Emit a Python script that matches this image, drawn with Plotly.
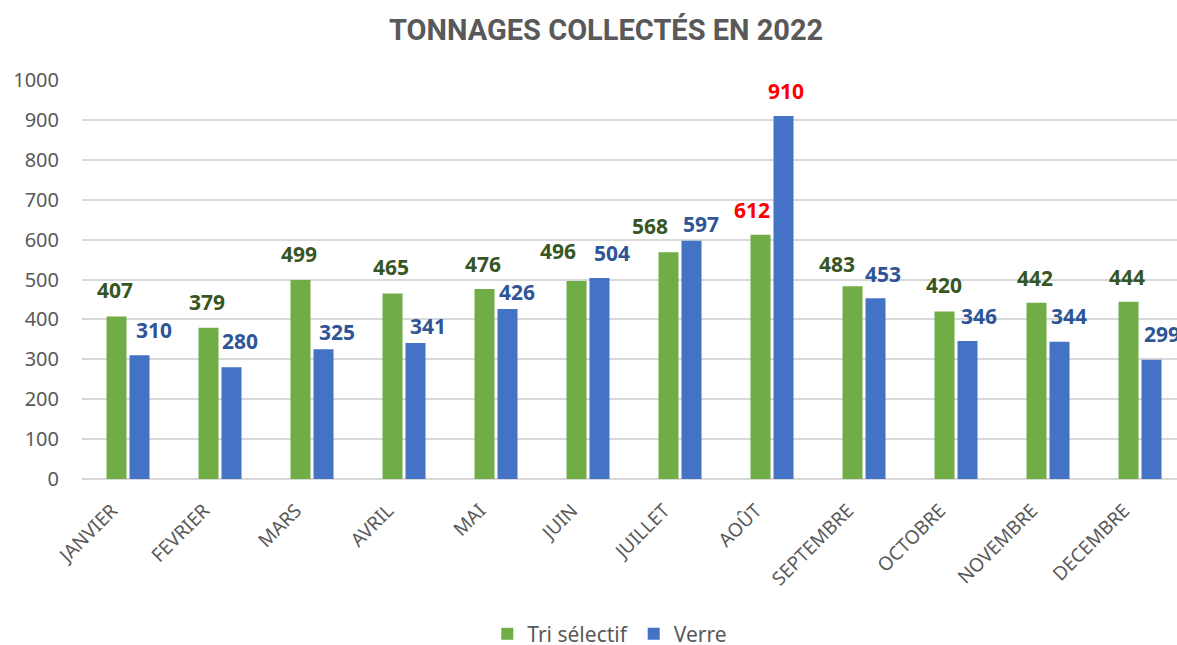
import plotly.graph_objects as go

months = ["JANVIER", "FEVRIER", "MARS", "AVRIL", "MAI", "JUIN", "JUILLET",
          "AOÛT", "SEPTEMBRE", "OCTOBRE", "NOVEMBRE", "DECEMBRE"]
tri_selectif = [407, 379, 499, 465, 476, 496, 568, 612, 483, 420, 442, 444]
verre = [310, 280, 325, 341, 426, 504, 597, 910, 453, 346, 344, 299]
y_ticks = [0, 100, 200, 300, 400, 500, 600, 700, 800, 900, 1000]

# label styling (pixel offsets relative to bar top / bar centre)
tri_dx = [0, 0, 0, 0, 0, -17, -17, -7, -14, 1, 0, 0]
tri_dy = [27, 26, 26, 26, 25, 30, 26, 25, 22, 26, 25, 25]
verre_dx = [13, 7, 12, 11, 8, 11, 8, 1, 6, 10, 8, 9]
verre_dy = [25, 26, 17, 17, 17, 25, 17, 25, 24, 25, 26, 26]
tri_col = ["#375623"] * 12
verre_col = ["#2F5597"] * 12
tri_col[7] = "#FF0000"
verre_col[7] = "#FF0000"

GREEN = "#70AD47"
BLUE = "#4472C4"
GRAY = "#595959"
FONT = "Noto Sans"

xi = list(range(len(months)))

fig = go.Figure()
fig.add_trace(go.Bar(x=xi, y=tri_selectif, name="Tri sélectif",
                     marker=dict(color=GREEN, line=dict(width=0))))
fig.add_trace(go.Bar(x=xi, y=verre, name="Verre",
                     marker=dict(color=BLUE, line=dict(width=0))))

for i in xi:
    fig.add_annotation(x=i, y=tri_selectif[i], xref="x", yref="y",
                       text=f"<b>{tri_selectif[i]}</b>", showarrow=False,
                       xshift=-13 + tri_dx[i], yshift=tri_dy[i], yanchor="middle",
                       font=dict(family=FONT, size=21, color=tri_col[i]))
    fig.add_annotation(x=i, y=verre[i], xref="x", yref="y",
                       text=f"<b>{verre[i]}</b>", showarrow=False,
                       xshift=13 + verre_dx[i], yshift=verre_dy[i], yanchor="middle",
                       font=dict(family=FONT, size=21, color=verre_col[i]))

fig.update_layout(
    width=1177, height=645,
    margin=dict(l=82, r=0, t=80, b=166),
    paper_bgcolor="white", plot_bgcolor="white",
    barmode="group", bargap=0.5, bargroupgap=0.13,
    title=dict(text="<b>TONNAGES COLLECTÉS EN 2022</b>", x=0.515, xanchor="center",
               y=1 - 30 / 645, yanchor="middle", yref="container",
               font=dict(family="Liberation Sans Narrow, Roboto", size=29, color=GRAY)),
    legend=dict(orientation="h", x=0.482, xanchor="center", y=1 - 634 / 645,
                yref="container", yanchor="middle",
                font=dict(family=FONT, size=21, color=GRAY),
                itemwidth=30, traceorder="normal"),
    xaxis=dict(tickmode="array", tickvals=xi, ticktext=months, range=[-0.5, 11.402],
               tickangle=-45, tickfont=dict(family=FONT, size=19, color=GRAY),
               ticklabelshift=-16,
               showgrid=False, zeroline=False, showline=False,
               ticks="outside", ticklen=12, tickcolor="rgba(0,0,0,0)"),
    yaxis=dict(range=[0, 1000], tickmode="array", tickvals=y_ticks,
               tickfont=dict(family=FONT, size=20, color=GRAY),
               showgrid=True, gridcolor="#D9D9D9", gridwidth=1.5,
               zeroline=True, zerolinecolor="#D9D9D9", zerolinewidth=1.5,
               ticks="outside", ticklen=18, tickcolor="rgba(0,0,0,0)", showline=False),
)

fig.write_html("out.html", config={"displayModeBar": False},
               post_script="document.body.style.margin='0';document.body.style.overflow='hidden';")
